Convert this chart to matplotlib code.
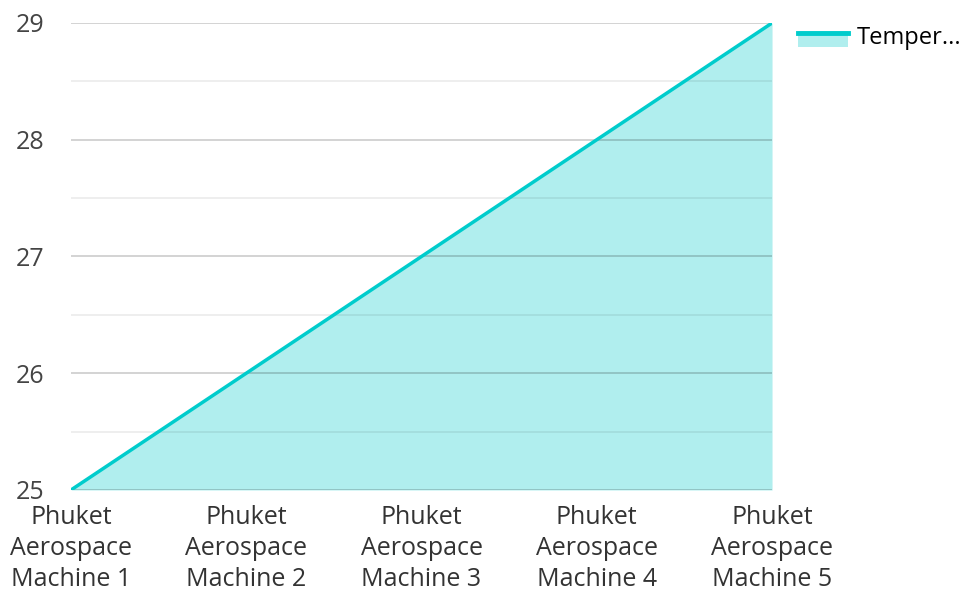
import matplotlib.pyplot as plt
from matplotlib.patches import Rectangle
from matplotlib.lines import Line2D
from matplotlib.legend_handler import HandlerBase

plt.rcParams['font.family'] = ['Open Sans', 'DejaVu Sans']

# Data
machines = ["Phuket\nAerospace\nMachine 1", "Phuket\nAerospace\nMachine 2",
            "Phuket\nAerospace\nMachine 3", "Phuket\nAerospace\nMachine 4",
            "Phuket\nAerospace\nMachine 5"]
temperature = [25, 26, 27, 28, 29]
series_label = "Temper..."
major_ticks = [25, 26, 27, 28, 29]
minor_ticks = [25.5, 26.5, 27.5, 28.5]

line_color = "#00cccc"
fill_color = "#b0eeee"


class AreaHandler(HandlerBase):
    # legend key: line on top of a filled box
    def create_artists(self, legend, orig_handle, xdescent, ydescent,
                       width, height, fontsize, trans):
        box = Rectangle((-xdescent, -ydescent - height * 0.15), width, height * 0.95,
                        facecolor=fill_color, edgecolor="none", transform=trans)
        ln = Line2D([-xdescent, -xdescent + width],
                    [-ydescent + height * 0.7] * 2,
                    color=line_color, lw=3.5, transform=trans)
        return [box, ln]


fig = plt.figure(figsize=(9.63, 5.94), dpi=100)
ax = fig.add_axes([0.0737, 0.1751, 0.728, 0.7862])

x = list(range(len(machines)))
ax.fill_between(x, temperature, major_ticks[0], color=fill_color, zorder=1, lw=0)
for t in major_ticks:
    ax.axhline(t, color="#000000", alpha=0.2, lw=1.2, zorder=2)
for t in minor_ticks:
    ax.axhline(t, color="#000000", alpha=0.08, lw=1.2, zorder=2)
ax.plot(x, temperature, color=line_color, lw=2.5, zorder=3, solid_capstyle="round")

ax.set_xlim(0, len(machines) - 1)
ax.set_ylim(major_ticks[0], major_ticks[-1])
ax.set_xticks(x)
ax.set_xticklabels(machines, fontsize=18, color="#333333", linespacing=1.3)
ax.set_yticks(major_ticks)
ax.set_yticklabels([str(t) for t in major_ticks], fontsize=18, color="#444444")
ax.tick_params(axis="both", length=0)
ax.tick_params(axis="y", pad=19)
ax.tick_params(axis="x", pad=11)
for s in ax.spines.values():
    s.set_visible(False)

ax.legend(handles=[Rectangle((0, 0), 1, 1)], labels=[series_label],
          handler_map={Rectangle: AreaHandler()},
          loc="upper left", bbox_to_anchor=(1.037, 0.993), frameon=False,
          borderpad=0, borderaxespad=0,
          fontsize=17, handlelength=2.1, handletextpad=0.4)

fig.savefig("out.png", dpi=100)
